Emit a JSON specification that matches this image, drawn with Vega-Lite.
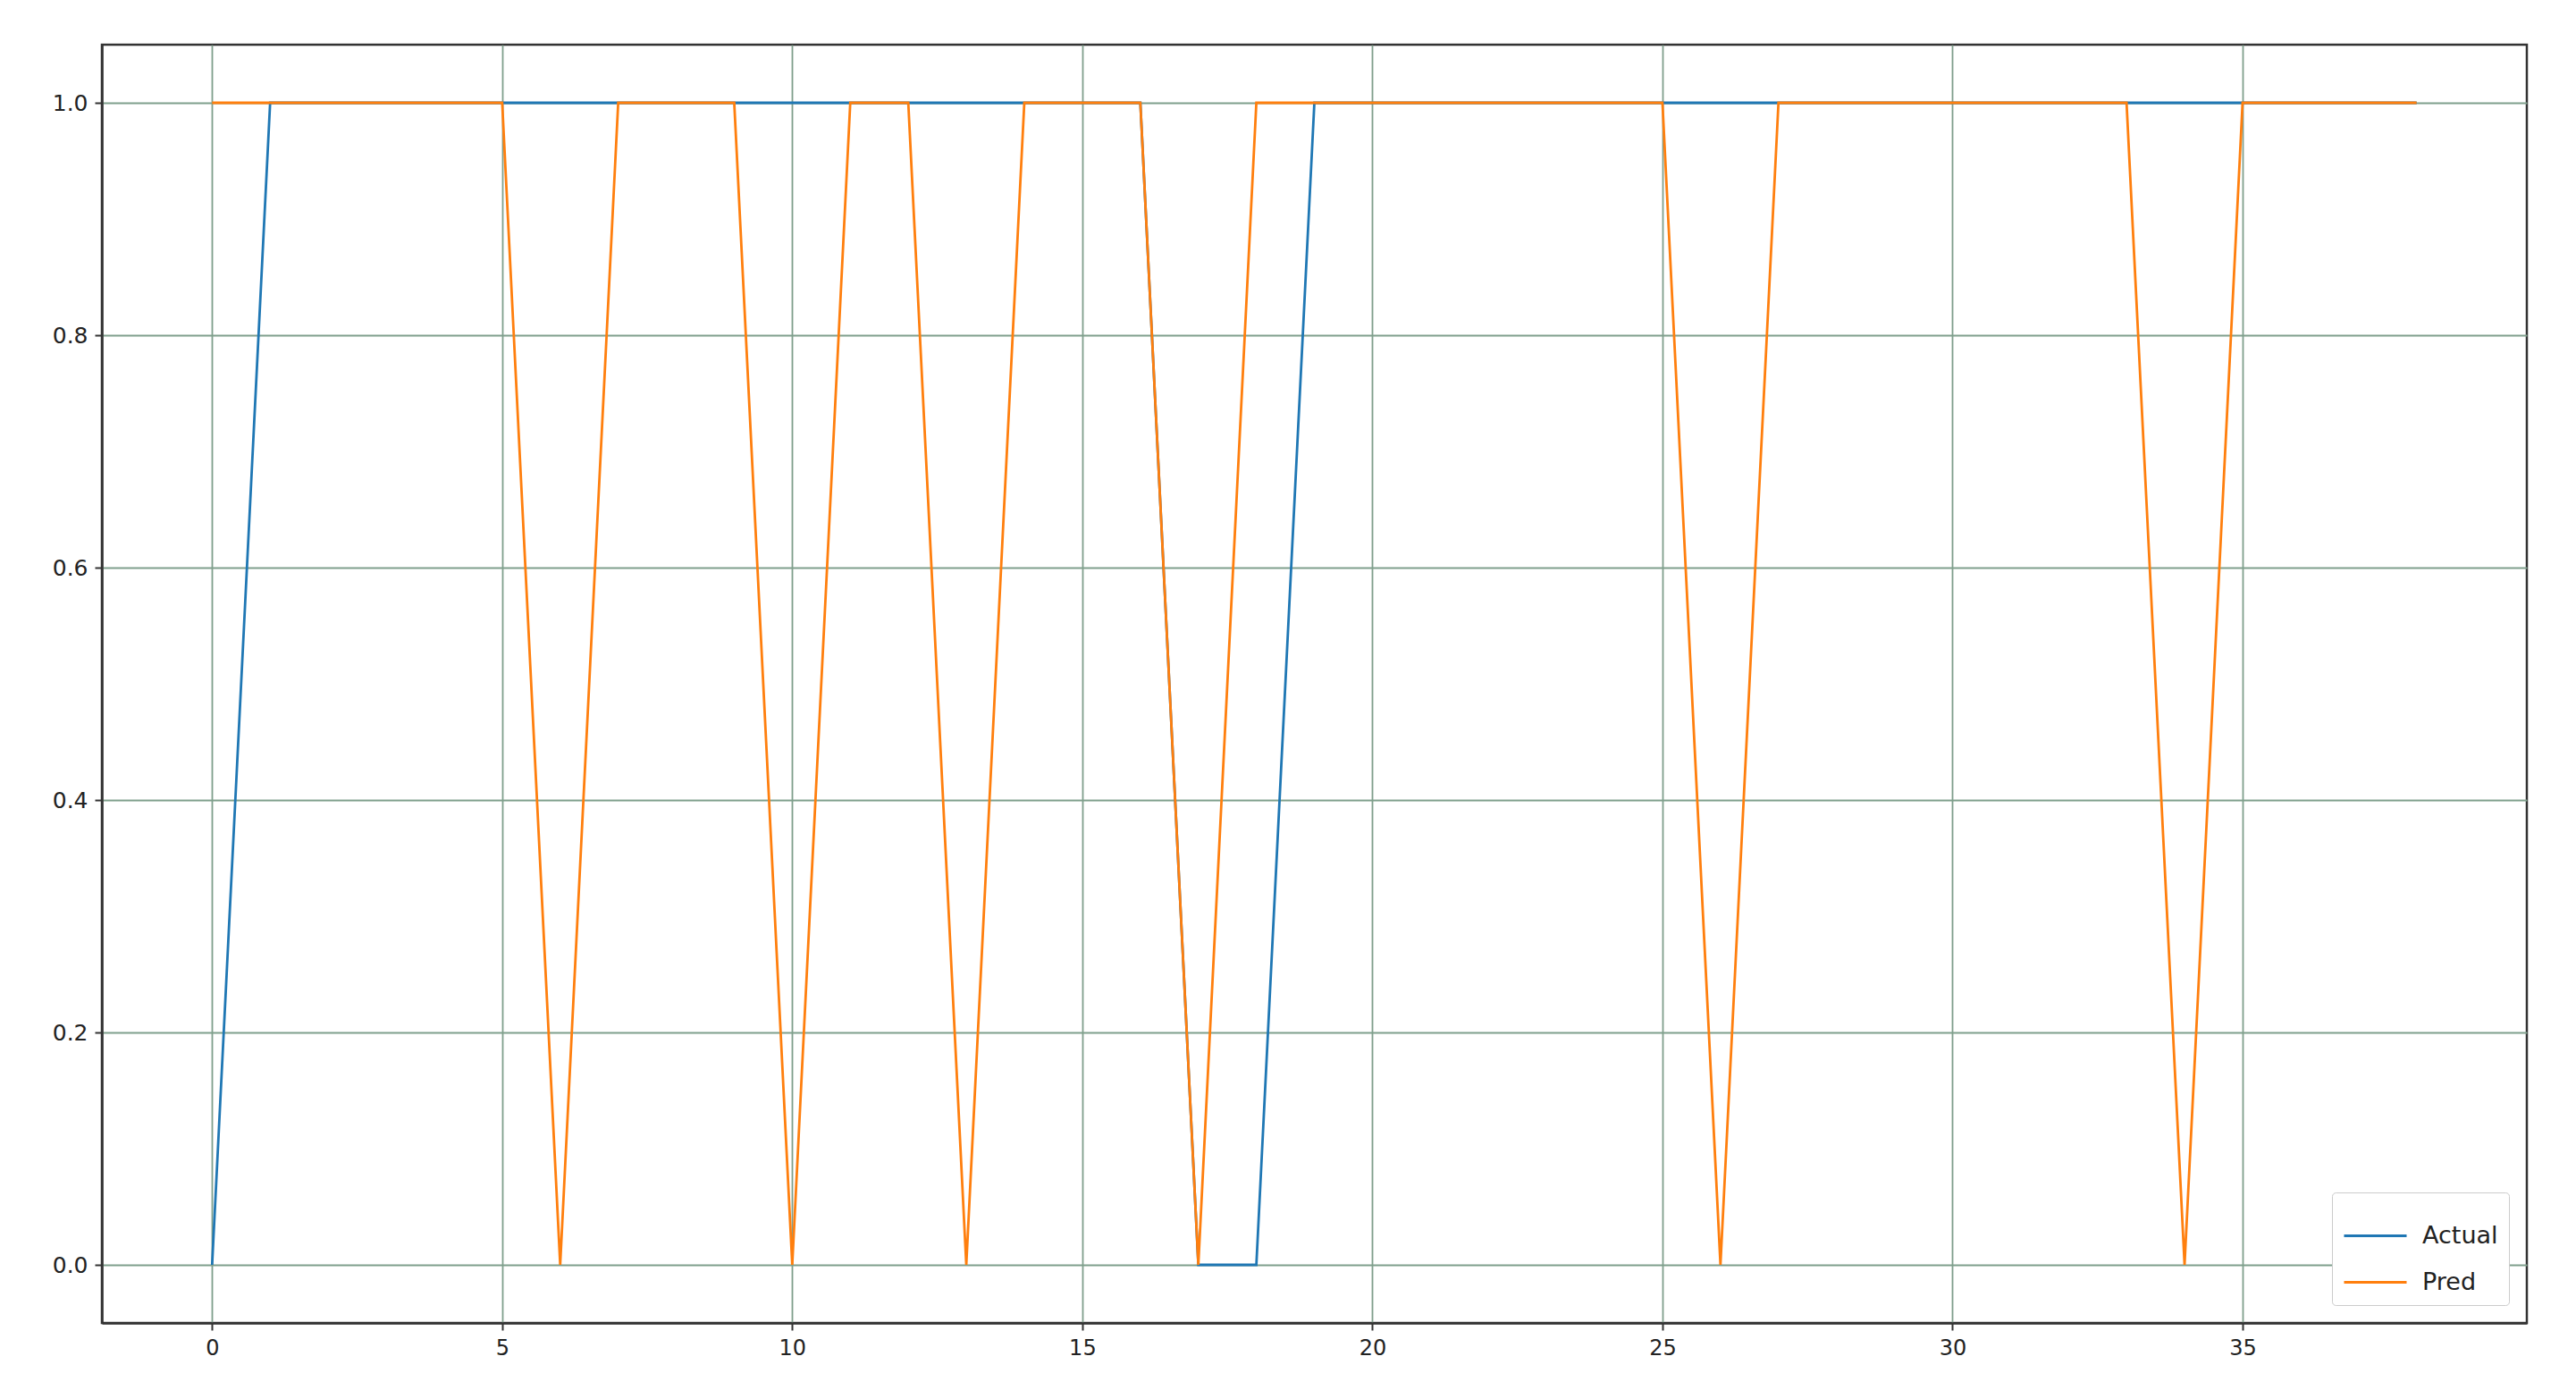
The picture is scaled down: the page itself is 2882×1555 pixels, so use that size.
{
  "$schema": "https://vega.github.io/schema/vega-lite/v6.json",
  "autosize": {"type": "none"},
  "width": 2713,
  "height": 1430,
  "padding": {"left": 114, "top": 50, "right": 55, "bottom": 75},
  "background": "white",
  "config": {
    "view": {"stroke": "#333333", "strokeWidth": 2.5},
    "font": "DejaVu Sans"
  },
  "data": {
    "values": [
      {"x": 0, "v": 0, "s": "Actual"}, {"x": 1, "v": 1, "s": "Actual"}, {"x": 2, "v": 1, "s": "Actual"}, {"x": 3, "v": 1, "s": "Actual"}, {"x": 4, "v": 1, "s": "Actual"}, {"x": 5, "v": 1, "s": "Actual"}, {"x": 6, "v": 1, "s": "Actual"}, {"x": 7, "v": 1, "s": "Actual"}, {"x": 8, "v": 1, "s": "Actual"}, {"x": 9, "v": 1, "s": "Actual"}, {"x": 10, "v": 1, "s": "Actual"}, {"x": 11, "v": 1, "s": "Actual"}, {"x": 12, "v": 1, "s": "Actual"}, {"x": 13, "v": 1, "s": "Actual"}, {"x": 14, "v": 1, "s": "Actual"}, {"x": 15, "v": 1, "s": "Actual"}, {"x": 16, "v": 1, "s": "Actual"}, {"x": 17, "v": 0, "s": "Actual"}, {"x": 18, "v": 0, "s": "Actual"}, {"x": 19, "v": 1, "s": "Actual"}, {"x": 20, "v": 1, "s": "Actual"}, {"x": 21, "v": 1, "s": "Actual"}, {"x": 22, "v": 1, "s": "Actual"}, {"x": 23, "v": 1, "s": "Actual"}, {"x": 24, "v": 1, "s": "Actual"}, {"x": 25, "v": 1, "s": "Actual"}, {"x": 26, "v": 1, "s": "Actual"}, {"x": 27, "v": 1, "s": "Actual"}, {"x": 28, "v": 1, "s": "Actual"}, {"x": 29, "v": 1, "s": "Actual"}, {"x": 30, "v": 1, "s": "Actual"}, {"x": 31, "v": 1, "s": "Actual"}, {"x": 32, "v": 1, "s": "Actual"}, {"x": 33, "v": 1, "s": "Actual"}, {"x": 34, "v": 1, "s": "Actual"}, {"x": 35, "v": 1, "s": "Actual"}, {"x": 36, "v": 1, "s": "Actual"}, {"x": 37, "v": 1, "s": "Actual"}, {"x": 38, "v": 1, "s": "Actual"},
      {"x": 0, "v": 1, "s": "Pred"}, {"x": 1, "v": 1, "s": "Pred"}, {"x": 2, "v": 1, "s": "Pred"}, {"x": 3, "v": 1, "s": "Pred"}, {"x": 4, "v": 1, "s": "Pred"}, {"x": 5, "v": 1, "s": "Pred"}, {"x": 6, "v": 0, "s": "Pred"}, {"x": 7, "v": 1, "s": "Pred"}, {"x": 8, "v": 1, "s": "Pred"}, {"x": 9, "v": 1, "s": "Pred"}, {"x": 10, "v": 0, "s": "Pred"}, {"x": 11, "v": 1, "s": "Pred"}, {"x": 12, "v": 1, "s": "Pred"}, {"x": 13, "v": 0, "s": "Pred"}, {"x": 14, "v": 1, "s": "Pred"}, {"x": 15, "v": 1, "s": "Pred"}, {"x": 16, "v": 1, "s": "Pred"}, {"x": 17, "v": 0, "s": "Pred"}, {"x": 18, "v": 1, "s": "Pred"}, {"x": 19, "v": 1, "s": "Pred"}, {"x": 20, "v": 1, "s": "Pred"}, {"x": 21, "v": 1, "s": "Pred"}, {"x": 22, "v": 1, "s": "Pred"}, {"x": 23, "v": 1, "s": "Pred"}, {"x": 24, "v": 1, "s": "Pred"}, {"x": 25, "v": 1, "s": "Pred"}, {"x": 26, "v": 0, "s": "Pred"}, {"x": 27, "v": 1, "s": "Pred"}, {"x": 28, "v": 1, "s": "Pred"}, {"x": 29, "v": 1, "s": "Pred"}, {"x": 30, "v": 1, "s": "Pred"}, {"x": 31, "v": 1, "s": "Pred"}, {"x": 32, "v": 1, "s": "Pred"}, {"x": 33, "v": 1, "s": "Pred"}, {"x": 34, "v": 0, "s": "Pred"}, {"x": 35, "v": 1, "s": "Pred"}, {"x": 36, "v": 1, "s": "Pred"}, {"x": 37, "v": 1, "s": "Pred"}, {"x": 38, "v": 1, "s": "Pred"}
    ]
  },
  "mark": {"type": "line", "strokeWidth": 2.8, "clip": true},
  "encoding": {
    "x": {
      "field": "x", "type": "quantitative",
      "scale": {"domain": [-1.9, 39.9], "nice": false, "zero": false},
      "axis": {
        "title": null, "values": [0, 5, 10, 15, 20, 25, 30, 35],
        "grid": true, "gridColor": "#7f9f8c", "gridWidth": 1.8,
        "domainColor": "#333333", "domainWidth": 2.5,
        "tickColor": "#333333", "tickSize": 8, "tickWidth": 2,
        "labelFontSize": 24, "labelColor": "#222222", "labelPadding": 8
      }
    },
    "y": {
      "field": "v", "type": "quantitative",
      "scale": {"domain": [-0.05, 1.05], "nice": false, "zero": false},
      "axis": {
        "title": null, "values": [0, 0.2, 0.4, 0.6, 0.8, 1.0], "format": ".1f",
        "grid": true, "gridColor": "#7f9f8c", "gridWidth": 1.8,
        "domainColor": "#333333", "domainWidth": 2.5,
        "tickColor": "#333333", "tickSize": 8, "tickWidth": 2,
        "labelFontSize": 25, "labelColor": "#222222", "labelPadding": 8
      }
    },
    "color": {
      "field": "s", "type": "nominal",
      "scale": {"domain": ["Actual", "Pred"], "range": ["#1f77b4", "#ff7f0e"]},
      "legend": {
        "title": null, "orient": "bottom-right", "offset": 20,
        "symbolType": "stroke", "symbolStrokeWidth": 3, "symbolSize": 4900,
        "labelFontSize": 27, "labelColor": "#222222", "rowPadding": 2, "labelOffset": 16,
        "fillColor": "white", "strokeColor": "#cccccc", "padding": 12, "cornerRadius": 4
      }
    }
  }
}
